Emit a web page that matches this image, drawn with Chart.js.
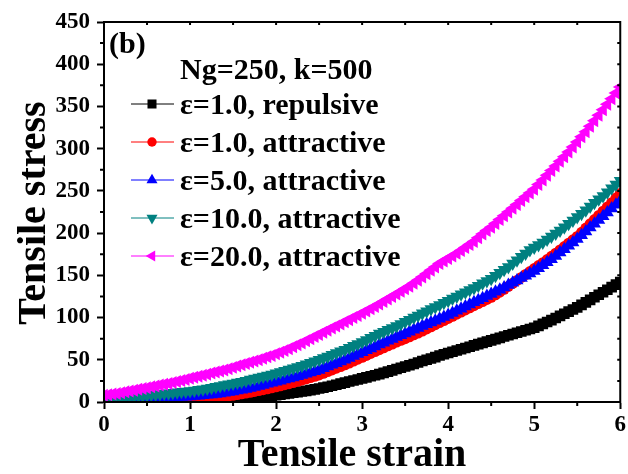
<!DOCTYPE html>
<html>
<head>
<meta charset="utf-8">
<script src="https://cdn.jsdelivr.net/npm/chart.js@4/dist/chart.umd.min.js"></script>
<style>
  html, body { margin: 0; padding: 0; background: #fff; }
  #wrap { width: 628px; height: 474px; }
</style>
</head>
<body>
<div id="wrap"><canvas id="myChart" width="628" height="474"></canvas></div>
<script>
// strain values (x)
const strain = [0,0.05,0.1,0.15,0.2,0.25,0.3,0.35,0.4,0.45,0.5,0.55,0.6,0.65,0.7,0.75,0.8,0.85,0.9,0.95,
  1,1.05,1.1,1.15,1.2,1.25,1.3,1.35,1.4,1.45,1.5,1.55,1.6,1.65,1.7,1.75,1.8,1.85,1.9,1.95,
  2,2.05,2.1,2.15,2.2,2.25,2.3,2.35,2.4,2.45,2.5,2.55,2.6,2.65,2.7,2.75,2.8,2.85,2.9,2.95,
  3,3.05,3.1,3.15,3.2,3.25,3.3,3.35,3.4,3.45,3.5,3.55,3.6,3.65,3.7,3.75,3.8,3.85,3.9,3.95,
  4,4.05,4.1,4.15,4.2,4.25,4.3,4.35,4.4,4.45,4.5,4.55,4.6,4.65,4.7,4.75,4.8,4.85,4.9,4.95,
  5,5.05,5.1,5.15,5.2,5.25,5.3,5.35,5.4,5.45,5.5,5.55,5.6,5.65,5.7,5.75,5.8,5.85,5.9,5.95,6];

// stress
const repulsive1 = [0,0,0,0,0,0,0,0,0.1,0.1,0.1,0.15,0.2,0.25,0.3,0.35,0.4,0.45,0.5,0.55,
  0.6,0.7,0.8,0.95,1.1,1.25,1.4,1.55,1.7,1.95,2.2,2.6,3,3.5,4,4.6,5.2,5.8,6.5,7.2,
  8,8.7,9.5,10.2,11,11.7,12.5,13.2,14,15,16,17,18,19.2,20.5,21.7,23,24.2,25.5,26.7,
  28,29.2,30.5,31.7,33,34.5,36,37.5,39,40.5,42,43.5,45,46.8,48.5,50,51.5,53.2,55,56.5,
  58,59.5,61,62.5,64,65.5,67,68.5,70,71.5,73,74.5,76,77.5,79,80.5,82,83.5,85,86.5,
  88,90.2,92.5,94.7,97,99.5,102,104.5,107,109.5,112,115,118,121,124,127,130,133,136,139,142];
const attractive1 = [0,0.1,0.2,0.3,0.4,0.5,0.6,0.7,0.8,0.9,1,1.15,1.3,1.45,1.6,1.8,2,2.25,2.5,2.75,
  3,3.4,3.8,4.2,4.7,5.2,5.7,6.2,6.8,7.4,8,8.8,9.7,10.6,11.5,12.5,13.5,14.6,15.7,16.8,
  18,19.2,20.5,21.7,23,24.5,26,27.5,29,30.5,32,34,36,38,40,42,44,46.2,48.5,50.7,
  53,55.2,57.5,59.7,62,64.2,66.5,68.7,71,73,75,77.2,79.5,81.7,84,86.5,89,91.5,94,96.5,
  99,101.5,104,106.5,109,111.5,114,116.5,119,121.5,124,127,130,133.5,137,140.5,144,147.5,151,154.5,
  158,161.5,165,168.7,172.5,176.2,180,184,188,192,196,201,206,211,216,221,226,231,236,241.5,247];
const attractive5 = [3,3,3,3.2,3.5,3.5,3.5,3.7,4,4,4,4.2,4.5,4.7,5,5.2,5.5,5.7,6,6.2,
  6.5,7,7.5,8,8.5,9,9.5,10.2,11,11.7,12.5,13.5,14.5,15.5,16.5,17.7,19,20.2,21.5,22.7,
  24,25.2,26.5,27.7,29,30.5,32,33.5,35,36.5,38,40,42,44,46,48,50,52.2,54.5,56.7,
  59,61.2,63.5,65.7,68,70.2,72.5,74.7,77,79,81,83.2,85.5,87.7,90,92,94,96.2,98.5,100.7,
  103,105.5,108,110.5,113,115.5,118,120.5,123,125.5,128,130.5,133,135.7,138.5,141.2,144,146.7,149.5,152.2,
  155,158.5,162,165.5,169,173,177,181,185,189,193,197.5,202,206.5,211,215.5,220,224.5,229,233.5,238];
const attractive10 = [4,4.2,4.5,5,5.5,6,6.5,6.7,7,7.5,8,8.5,9,9.5,10,10.5,11,11.5,12,12.5,
  13,13.7,14.5,15.2,16,17,18,19,20,21,22,23,24,25.2,26.5,27.7,29,30.2,31.5,32.7,
  34,35.5,37,38.5,40,41.5,43,44.7,46.5,48.2,50,52,54,56,58,60,62,64.2,66.5,68.7,
  71,73.5,76,78.5,81,83.2,85.5,87.7,90,92.5,95,97.5,100,102.5,105,107.5,110,112.5,115,117.5,
  120,122.5,125,127.5,130,132.5,135,137.7,140.5,143.2,146,149.5,153,156.5,160,164,168,172,176,180,
  183,186,189,192.5,196,199.5,203,207,211,215,219,223,227,231.5,236,240,244,248.5,253,257.5,262];
const attractive20 = [8,8.7,9.5,10.2,11,12,13,14,15,16,17,18,19,20,21,22,23,24.2,25.5,26.7,
  28,29.2,30.5,31.7,33,34.2,35.5,36.7,38,39.5,41,42.5,44,45.5,47,48.5,50,51.7,53.5,55.2,
  57,59,61,63.2,65.5,67.7,70,72.5,75,77.5,80,82.5,85,87.5,90,92.5,95,97.5,100,102.5,
  105,107.7,110.5,113.2,116,119,122,125,128,131,134,137.2,140.5,144.2,148,152,156,160,164,167,
  170,173,176,179.5,183,186.5,190,194.5,199,203,207,211.5,216,220.5,225,229.5,234,238.5,243,247.5,
  252,257.5,263,268.5,274,279.5,285,290.5,296,302,308,314,320,326.5,333,339.5,346,352.5,359,366,373];

const seriesNames = ['\u03b5=1.0, repulsive', '\u03b5=1.0, attractive', '\u03b5=5.0, attractive',
  '\u03b5=10.0, attractive', '\u03b5=20.0, attractive'];
const seriesColors = ['#000000', '#ff0000', '#0000ff', '#008080', '#ff00ff'];
const seriesStyles = ['rect', 'circle', 'triangle', 'triangle', 'triangle'];
const seriesRotation = [0, 0, 0, 180, -90];
const seriesRadius = [7.5, 5.5, 7.5, 7.5, 7.5];
const legendTitle = 'Ng=250, k=500';
const panelLabel = '(b)';
const xTitle = 'Tensile strain';
const yTitle = 'Tensile stress';
const allSeries = [repulsive1, attractive1, attractive5, attractive10, attractive20];

const FONT = '"Liberation Serif", "Times New Roman", serif';

const datasets = allSeries.map((vals, i) => ({
  label: seriesNames[i],
  data: vals.map((v, j) => ({ x: strain[j], y: v })),
  showLine: true,
  borderColor: seriesColors[i],
  backgroundColor: seriesColors[i],
  borderWidth: 1,
  pointStyle: seriesStyles[i],
  rotation: seriesRotation[i],
  pointRadius: seriesRadius[i],
  pointBorderWidth: 0,
  order: 4 - i
}));

// minor ticks, box, legend and titles
const extras = {
  id: 'extras',
  afterDraw(chart) {
    const ctx = chart.ctx;
    const a = chart.chartArea;
    const xs = chart.scales.x, ys = chart.scales.y;
    ctx.save();
    ctx.strokeStyle = '#000';
    ctx.lineWidth = 2;
    ctx.strokeRect(a.left, a.top, a.right - a.left, a.bottom - a.top);
    ctx.beginPath();
    for (let v = 0.5; v < 6; v += 1) {
      const px = xs.getPixelForValue(v);
      ctx.moveTo(px, a.bottom); ctx.lineTo(px, a.bottom + 4);
    }
    for (let v = 25; v < 450; v += 50) {
      const py = ys.getPixelForValue(v);
      ctx.moveTo(a.left, py); ctx.lineTo(a.left - 4, py);
    }
    // inner ticks on top and right
    for (let v = 0.5; v < 6; v += 0.5) {
      const px = xs.getPixelForValue(v);
      ctx.moveTo(px, a.top); ctx.lineTo(px, a.top + 3);
    }
    for (let v = 25; v < 450; v += 25) {
      const py = ys.getPixelForValue(v);
      ctx.moveTo(a.right, py); ctx.lineTo(a.right - 3, py);
    }
    ctx.stroke();

    ctx.fillStyle = '#000';
    ctx.textBaseline = 'alphabetic';
    ctx.font = 'bold 30px ' + FONT;
    ctx.fillText(panelLabel, 109, 53);

    ctx.font = 'bold 30px ' + FONT;
    ctx.fillText(legendTitle, 180, 79);
    const rowY = [104, 142, 180, 218, 256];
    seriesNames.forEach((name, i) => {
      const y = rowY[i];
      ctx.strokeStyle = seriesColors[i];
      ctx.lineWidth = 1;
      ctx.beginPath();
      ctx.moveTo(131, y); ctx.lineTo(174, y);
      ctx.stroke();
      ctx.fillStyle = seriesColors[i];
      Chart.helpers.drawPoint(ctx, {
        pointStyle: seriesStyles[i], rotation: seriesRotation[i],
        radius: seriesRadius[i] * 0.85, borderWidth: 0
      }, 152, y);
      ctx.fillStyle = '#000';
      ctx.fillText(name, 180, y + 10);
    });

    ctx.font = 'bold 40px ' + FONT;
    ctx.textAlign = 'center';
    ctx.fillText(xTitle, 352, 466);
    ctx.translate(45, 213);
    ctx.rotate(-Math.PI / 2);
    ctx.fillText(yTitle, 0, 0);
    ctx.restore();
  }
};

const tickFont = { family: FONT, size: 23, weight: 'bold' };

new Chart(document.getElementById('myChart'), {
  type: 'scatter',
  data: { datasets: datasets },
  options: {
    responsive: false,
    animation: false,
    layout: { padding: { top: 22, right: 6, left: 0, bottom: 0 } },
    plugins: { legend: { display: false }, tooltip: { enabled: false } },
    scales: {
      x: {
        type: 'linear', min: 0, max: 6,
        border: { display: true, color: '#000', width: 2 },
        grid: { drawOnChartArea: false, color: '#000', tickLength: 7, tickWidth: 2 },
        ticks: { stepSize: 1, color: '#000', font: tickFont, padding: 2 },
        afterFit: s => { s.height = 72; }
      },
      y: {
        type: 'linear', min: 0, max: 450,
        border: { display: true, color: '#000', width: 2 },
        grid: { drawOnChartArea: false, color: '#000', tickLength: 7, tickWidth: 2 },
        ticks: { stepSize: 50, color: '#000', font: tickFont, padding: 7 },
        afterFit: s => { s.width = 104; }
      }
    }
  },
  plugins: [extras]
});
</script>
</body>
</html>
